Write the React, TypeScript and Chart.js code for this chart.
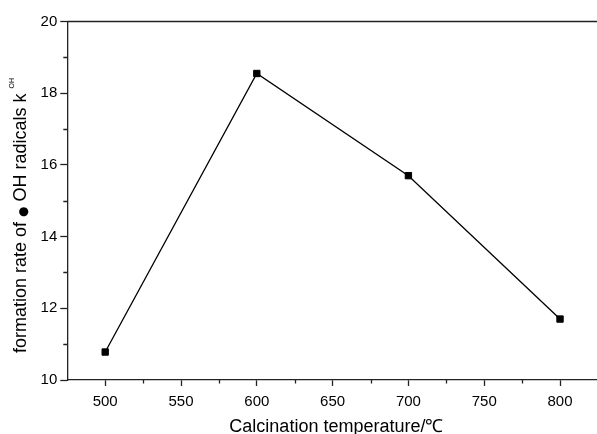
import React, { useEffect, useRef } from 'react';
import { Chart, registerables } from 'chart.js';

Chart.register(...registerables);

// ---- data ----
const temperatures = [500, 600, 700, 800];
const kOH = [10.78, 18.55, 15.7, 11.7];
const xMajorTicks = [500, 550, 600, 650, 700, 750, 800];
const xMinorTicks = [525, 575, 625, 675, 725, 775, 825];
const yMajorTicks = [10, 12, 14, 16, 18, 20];
const yMinorTicks = [11, 13, 15, 17, 19];
const xTitle = 'Calcination temperature/℃';
const yTitleParts = ['formation rate of ', '●', ' OH radicals k'];
const ySub = 'OH';

const FONT = "'Liberation Sans', Arial, Helvetica, sans-serif";
const AXIS = '#222';

const framePlugin = {
  id: 'frame',
  afterDraw(chart: any) {
    const { ctx, chartArea: a, scales } = chart;
    const x = scales.x;
    const y = scales.y;
    ctx.save();
    ctx.strokeStyle = AXIS;
    ctx.lineWidth = 1.3;
    ctx.beginPath();
    ctx.moveTo(a.left, a.top);
    ctx.lineTo(a.right, a.top);
    ctx.lineTo(a.right, a.bottom);
    ctx.stroke();
    ctx.beginPath();
    xMinorTicks.forEach((v) => {
      const px = Math.round(x.getPixelForValue(v)) + 0.5;
      ctx.moveTo(px, a.bottom);
      ctx.lineTo(px, a.bottom + 3.5);
    });
    yMinorTicks.forEach((v) => {
      const py = Math.round(y.getPixelForValue(v)) + 0.5;
      ctx.moveTo(a.left, py);
      ctx.lineTo(a.left - 4, py);
    });
    ctx.stroke();

    // y axis title with raised "OH"
    ctx.fillStyle = '#000';
    ctx.translate(26, a.bottom - 27);
    ctx.rotate(-Math.PI / 2);
    ctx.textAlign = 'left';
    ctx.textBaseline = 'alphabetic';
    let pos = 0;
    yTitleParts.forEach((part, i) => {
      ctx.font = i === 1 ? `12px 'DejaVu Sans', sans-serif` : `18px ${FONT}`;
      ctx.fillText(part, pos, i === 1 ? 0.5 : 0);
      pos += ctx.measureText(part).width;
    });
    ctx.font = `7px ${FONT}`;
    ctx.fillText(ySub, pos + 5, -12);
    ctx.restore();
  },
};

export default function App() {
  const ref = useRef<HTMLCanvasElement | null>(null);

  useEffect(() => {
    if (!ref.current) return;
    const chart = new Chart(ref.current, {
      type: 'line',
      data: {
        datasets: [
          {
            data: temperatures.map((t, i) => ({ x: t, y: kOH[i] })),
            borderColor: '#000',
            borderWidth: 1.3,
            pointStyle: 'rect',
            pointRadius: 4.5,
            pointBackgroundColor: '#000',
            pointBorderColor: '#000',
            pointBorderWidth: 1,
            tension: 0,
            clip: false as any,
          },
        ],
      },
      options: {
        animation: false,
        responsive: false,
        events: [],
        layout: { padding: { top: 21.5, right: 34.5, left: 0, bottom: 0 } },
        plugins: { legend: { display: false }, tooltip: { enabled: false } },
        scales: {
          x: {
            type: 'linear',
            min: 475,
            max: 830,
            afterBuildTicks: (s: any) => {
              s.ticks = xMajorTicks.map((v) => ({ value: v }));
            },
            afterFit: (s: any) => {
              s.height = 60;
            },
            grid: {
              drawOnChartArea: false,
              drawTicks: true,
              tickLength: 6,
              tickColor: AXIS,
              tickWidth: 1.3,
            },
            border: { color: AXIS, width: 1.3 },
            ticks: {
              color: '#000',
              font: { family: FONT, size: 15 },
              padding: 7,
              maxRotation: 0,
              autoSkip: false,
            },
            title: {
              display: true,
              text: xTitle,
              color: '#000',
              font: { family: FONT, size: 18 },
              padding: { top: 0, bottom: 2 },
            },
          },
          y: {
            type: 'linear',
            min: 10,
            max: 20,
            afterBuildTicks: (s: any) => {
              s.ticks = yMajorTicks.map((v) => ({ value: v }));
            },
            afterFit: (s: any) => {
              s.width = 67.3;
            },
            grid: {
              drawOnChartArea: false,
              drawTicks: true,
              tickLength: 7,
              tickColor: AXIS,
              tickWidth: 1.3,
            },
            border: { color: AXIS, width: 1.3 },
            ticks: {
              color: '#000',
              font: { family: FONT, size: 15 },
              padding: 3,
            },
          },
        },
      },
      plugins: [framePlugin],
    });
    return () => chart.destroy();
  }, []);

  return (
    <div style={{ position: 'fixed', left: 0, top: 0, width: 640, height: 440, background: '#fff' }}>
      <canvas ref={ref} width={640} height={440} style={{ display: 'block' }} />
    </div>
  );
}
